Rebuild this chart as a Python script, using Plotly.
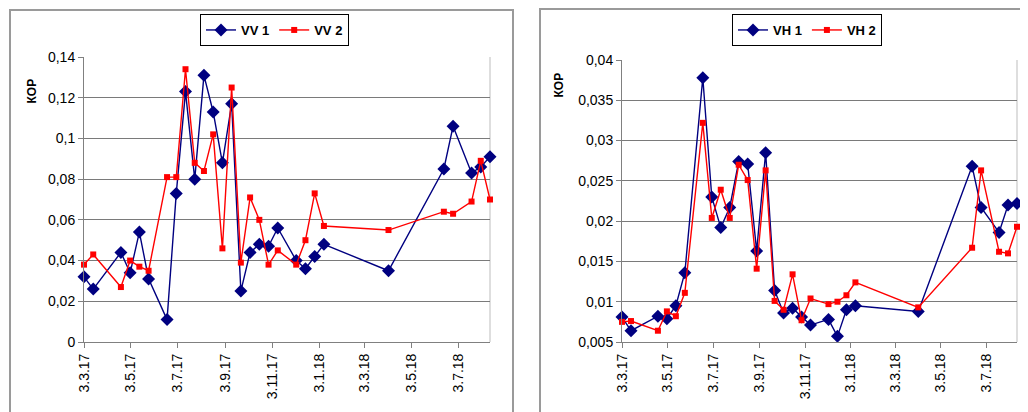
import plotly.graph_objects as go

dates = ["2017-03-03", "2017-03-15", "2017-04-20", "2017-05-02", "2017-05-14", "2017-05-26",
         "2017-06-19", "2017-07-01", "2017-07-13", "2017-07-25", "2017-08-06", "2017-08-18",
         "2017-08-30", "2017-09-11", "2017-09-23", "2017-10-05", "2017-10-17", "2017-10-29",
         "2017-11-10", "2017-12-04", "2017-12-16", "2017-12-28", "2018-01-09", "2018-04-03",
         "2018-06-14", "2018-06-26", "2018-07-20", "2018-08-01", "2018-08-13"]

vv1 = [0.032, 0.026, 0.044, 0.034, 0.054, 0.031, 0.011, 0.073, 0.123, 0.080, 0.131, 0.113,
       0.088, 0.117, 0.025, 0.044, 0.048, 0.047, 0.056, 0.040, 0.036, 0.042, 0.048, 0.035,
       0.085, 0.106, 0.083, 0.086, 0.091]
vv2 = [0.038, 0.043, 0.027, 0.040, 0.037, 0.035, 0.081, 0.081, 0.134, 0.088, 0.084, 0.102,
       0.046, 0.125, 0.039, 0.071, 0.060, 0.038, 0.045, 0.038, 0.050, 0.073, 0.057, 0.055,
       0.064, 0.063, 0.069, 0.089, 0.070]
vh1 = [0.0081, 0.0064, 0.0082, 0.0079, 0.0095, 0.0136, 0.0378, 0.0230, 0.0192, 0.0217, 0.0274,
       0.0271, 0.0163, 0.0285, 0.0114, 0.0086, 0.0092, 0.0081, 0.0071, 0.0078, 0.0057, 0.0090,
       0.0095, 0.0088, 0.0268, 0.0217, 0.0186, 0.0220, 0.0222]
vh2 = [0.0075, 0.0076, 0.0064, 0.0088, 0.0082, 0.0111, 0.0322, 0.0204, 0.0239, 0.0204, 0.0270,
       0.0251, 0.0141, 0.0263, 0.0101, 0.0090, 0.0134, 0.0077, 0.0104, 0.0097, 0.0100, 0.0108,
       0.0124, 0.0093, 0.0167, 0.0263, 0.0162, 0.0160, 0.0193]

x_tick_vals = ["2017-03-03", "2017-05-03", "2017-07-03", "2017-09-03", "2017-11-03",
               "2018-01-03", "2018-03-03", "2018-05-03", "2018-07-03"]
x_tick_text = ["3.3.17", "3.5.17", "3.7.17", "3.9.17", "3.11.17", "3.1.18", "3.3.18", "3.5.18", "3.7.18"]

vv_tick_vals = [0, 0.02, 0.04, 0.06, 0.08, 0.1, 0.12, 0.14]
vv_tick_text = ["0", "0,02", "0,04", "0,06", "0,08", "0,1", "0,12", "0,14"]
vh_tick_vals = [0.005, 0.01, 0.015, 0.02, 0.025, 0.03, 0.035, 0.04]
vh_tick_text = ["0,005", "0,01", "0,015", "0,02", "0,025", "0,03", "0,035", "0,04"]

# page body has an 8px margin: size the figure to fill the rest of the window
OFF = 8
W, H = 1028 - OFF, 412 - OFF
BLUE = "#000080"
RED = "#ff0000"
FONT = "Liberation Sans, Arial, sans-serif"

def px(x):
    return (x - OFF) / W

def py(y):
    return 1 - (y - OFF) / H

fig = go.Figure()

def add_pair(xa, ya, legend, n1, n2, s1, s2):
    fig.add_trace(go.Scatter(x=dates, y=s1, name="<b>%s</b>" % n1, xaxis=xa, yaxis=ya, legend=legend,
                             mode="lines+markers", cliponaxis=False,
                             line=dict(color=BLUE, width=1.4),
                             marker=dict(symbol="diamond", size=10, color=BLUE)))
    fig.add_trace(go.Scatter(x=dates, y=s2, name="<b>%s</b>" % n2, xaxis=xa, yaxis=ya, legend=legend,
                             mode="lines+markers", cliponaxis=False,
                             line=dict(color=RED, width=1.4),
                             marker=dict(symbol="square", size=6, color=RED)))

add_pair("x", "y", "legend", "VV 1", "VV 2", vv1, vv2)
add_pair("x2", "y2", "legend2", "VH 1", "VH 2", vh1, vh2)

xcommon = dict(type="date", range=["2017-03-03", "2018-08-13"], tickmode="array",
               tickvals=x_tick_vals, ticktext=x_tick_text, tickangle=-90,
               ticks="outside", ticklen=5, tickcolor="#808080", showgrid=False,
               showline=True, linecolor="#808080", linewidth=1, zeroline=False,
               automargin=False,
               tickfont=dict(family=FONT, size=14, color="black"))
ycommon = dict(tickmode="array", ticks="outside", ticklen=5, tickcolor="#808080",
               showgrid=True, gridcolor="#7a7a7a", gridwidth=1, showline=True,
               linecolor="#808080", linewidth=1, zeroline=False, automargin=False,
               tickfont=dict(family=FONT, size=14, color="black"))

fig.update_layout(
    width=W, height=H, margin=dict(l=0, r=0, t=0, b=0, autoexpand=False),
    paper_bgcolor="white", plot_bgcolor="white",
    font=dict(family=FONT, color="black"),
    xaxis=dict(xcommon, domain=[px(84), px(490)], anchor="y"),
    yaxis=dict(ycommon, domain=[py(342), py(57)], range=[0, 0.14], anchor="x",
               tickvals=vv_tick_vals, ticktext=vv_tick_text),
    xaxis2=dict(xcommon, domain=[px(622), px(1017)], anchor="y2"),
    yaxis2=dict(ycommon, domain=[py(342), py(60)], range=[0.005, 0.04], anchor="x2",
                tickvals=vh_tick_vals, ticktext=vh_tick_text),
    legend=dict(orientation="h", x=px(200), y=py(14), xanchor="left", yanchor="top",
                bordercolor="black", borderwidth=1, bgcolor="white",
                font=dict(family=FONT, size=13, color="black"), tracegroupgap=0),
    legend2=dict(orientation="h", x=px(732), y=py(14), xanchor="left", yanchor="top",
                 bordercolor="black", borderwidth=1, bgcolor="white",
                 font=dict(family=FONT, size=13, color="black"), tracegroupgap=0),
    showlegend=True,
)

# Y axis captions
for xx, yy in [(22, 77), (558, 71)]:
    fig.add_annotation(x=px(xx), y=py(yy), xref="paper", yref="paper", text="<b>КОР</b>",
                       textangle=-90, showarrow=False, font=dict(family=FONT, size=12, color="black"))

# Chart frames and plot-area right borders
fig.add_shape(type="rect", xref="paper", yref="paper", x0=px(10), x1=px(513), y0=py(425), y1=py(10),
              line=dict(color="#9a9a9a", width=2))
fig.add_shape(type="rect", xref="paper", yref="paper", x0=px(540), x1=px(1040), y0=py(425), y1=py(9),
              line=dict(color="#9a9a9a", width=2))
for xr, yr in [("x domain", "y domain"), ("x2 domain", "y2 domain")]:
    fig.add_shape(type="line", xref=xr, yref=yr, x0=1, x1=1, y0=0, y1=1,
                  line=dict(color="#bdbdbd", width=1), layer="below")

fig.write_html("out.html")
